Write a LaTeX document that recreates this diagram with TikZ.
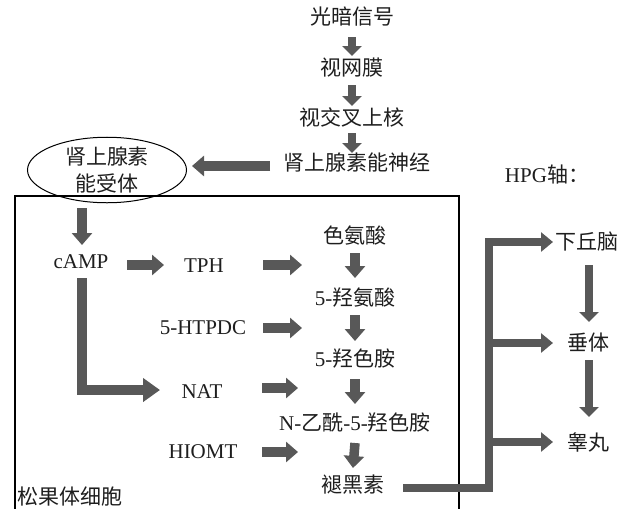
\documentclass[tikz,border=0pt]{standalone}
\usepackage{fontspec}
\setmainfont{Liberation Serif}
\newfontfamily\cjk{Noto Sans CJK SC}
\usetikzlibrary{arrows.meta,calc,shapes.geometric}
\definecolor{arrgray}{RGB}{88,88,88}
\definecolor{txt}{RGB}{30,30,30}
\tikzset{
  lbl/.style={inner sep=0pt, text=txt, font=\fontsize{21}{26}\selectfont},
  zh/.style={lbl, font=\fontsize{21}{26}\selectfont\cjk},
  fat/.style={draw=arrgray, line width=9.5pt, -{Triangle[width=20pt,length=12pt]}},
  thin/.style={draw=arrgray, line width=8pt, -{Triangle[width=19pt,length=10pt]}},
  hpgline/.style={draw=arrgray, line width=8pt, line join=miter, -{Triangle[width=19pt,length=12pt]}},
  bigl/.style={draw=arrgray, line width=9.5pt, line join=miter, -{Triangle[width=23pt,length=17pt]}}
}
\begin{document}
\begin{tikzpicture}[x=1pt,y=-1pt]
\useasboundingbox (0,0) rectangle (630,509);
% cell box
\draw[line width=1.1pt, black] (15,509) |- (459,196) -- (459,509);
% nodes
\node[zh] (gs)  at (352,17)  {光暗信号};
\node[zh] (swm) at (352,68)  {视网膜};
\node[zh] (sjc) at (352,117) {视交叉上核};
\node[zh] (sjs) at (357,163) {肾上腺素能神经};
\node[zh, draw=black, line width=1pt, ellipse, minimum width=159pt, minimum height=64pt, align=center,
      font=\fontsize{21}{27}\selectfont\cjk] (ell) at (107,170) {肾上腺素\\能受体};
\node[lbl] (camp)  at (81,262)  {cAMP};
\node[lbl] (tph)   at (204,266) {TPH};
\node[zh]  (sad)   at (355,235) {色氨酸};
\node[lbl] (hsa)   at (355,298) {5-{\cjk 羟氨酸}};
\node[lbl] (htpdc) at (203,328) {5-HTPDC};
\node[lbl] (hst)   at (355,359) {5-{\cjk 羟色胺}};
\node[lbl] (nat)   at (202,392) {NAT};
\node[lbl] (nac)   at (355,423) {N-{\cjk 乙酰}-5-{\cjk 羟色胺}};
\node[lbl] (hiomt) at (203,452) {HIOMT};
\node[zh]  (mel)   at (353,485) {褪黑素};
\node[zh, anchor=west] (sgt) at (17,497) {松果体细胞};
\node[lbl] (hpg) at (547,175) {HPG{\cjk 轴：}};
\node[zh] (xqn) at (587,242) {下丘脑};
\node[zh] (ct)  at (588,343) {垂体};
\node[zh] (gw)  at (588,442) {睾丸};
% free ends
\coordinate (t1) at (302,265);
\coordinate (h1) at (302,328);
\coordinate (n1) at (298,388);
\coordinate (i1) at (298,452);
\coordinate (jb) at (489,488);
\coordinate (jt) at (489,242);
% top chain
\draw[thin] ($(gs)+(0,20)$) -- ($(swm)+(0,-12)$);
\draw[thin] ($(swm)+(0,17)$) -- ($(sjc)+(0,-11)$);
\draw[thin] ($(sjc)+(0,16)$) -- ($(sjs)+(-5,-10)$);
\draw[fat] ($(sjs)+(-87,3)$) -- ($(ell.east)+(5,-4)$);
\draw[fat] ($(ell.south)+(-25,5)$) -- ($(camp)+(1,-17)$);
% enzymes
\draw[fat] ($(camp)+(46,3)$) -- ($(tph)+(-40,-1)$);
\draw[fat] ($(tph)+(59,-1)$) -- (t1);
\draw[fat] ($(htpdc)+(60,0)$) -- (h1);
\draw[bigl] ($(camp)+(1,16)$) |- ($(nat)+(-42,-2)$);
\draw[fat] ($(nat)+(60,-4)$) -- (n1);
\draw[fat] ($(hiomt)+(59,0)$) -- (i1);
% synthesis chain
\draw[fat] ($(sad)+(0,18)$) -- ($(hsa)+(0,-20)$);
\draw[fat] ($(hsa)+(0,17)$) -- ($(hst)+(0,-18)$);
\draw[fat] ($(hst)+(0,20)$) -- ($(nac)+(0,-19)$);
\draw[fat] ($(nac)+(0,20)$) -- ($(mel)+(0,-17)$);
% HPG
\draw[hpgline] ($(mel)+(50,3)$) -- (jb) -- (jt) -- ($(xqn)+(-34,0)$);
\draw[hpgline] (jt |- ct) -- ($(ct)+(-35,0)$);
\draw[hpgline] (jt |- gw) -- ($(gw)+(-35,0)$);
\draw[thin] ($(xqn)+(2,23)$) -- ($(ct)+(1,-21)$);
\draw[thin] ($(ct)+(1,17)$) -- ($(gw)+(1,-25)$);
\end{tikzpicture}
\end{document}
